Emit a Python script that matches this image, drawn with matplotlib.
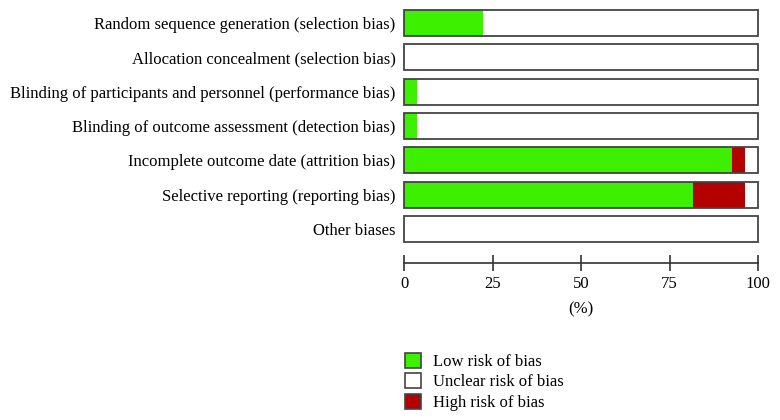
import matplotlib.pyplot as plt
from matplotlib.patches import Patch

# risk of bias domains (top to bottom)
domains = [
    "Random sequence generation (selection bias)",
    "Allocation concealment (selection bias)",
    "Blinding of participants and personnel (performance bias)",
    "Blinding of outcome assessment (detection bias)",
    "Incomplete outcome date (attrition bias)",
    "Selective reporting (reporting bias)",
    "Other biases",
]
low_risk = [22.2, 0, 3.7, 3.7, 92.6, 81.5, 0]
high_risk = [0, 0, 0, 0, 3.7, 14.8, 0]
unclear_risk = [100 - l - h for l, h in zip(low_risk, high_risk)]

x_ticks = [0, 25, 50, 75, 100]
legend_labels = ["Low risk of bias", "Unclear risk of bias", "High risk of bias"]

green = "#3cf000"
red = "#b30000"
edge = "#444444"

plt.rcParams['font.family'] = ['Liberation Serif', 'DejaVu Serif']
plt.rcParams['font.size'] = 12

fig = plt.figure(figsize=(7.8, 4.2), dpi=100)
ax = fig.add_axes([404/780, 1-246.2/420, 354/780, (246.2-5.83)/420])

y = list(range(len(domains)))
h = 0.76
ax.barh(y, low_risk, height=h, color=green, edgecolor="none")
ax.barh(y, high_risk, left=low_risk, height=h, color=red, edgecolor="none")
lefts = [l + r for l, r in zip(low_risk, high_risk)]
ax.barh(y, unclear_risk, left=lefts, height=h, color="white", edgecolor="none")
# outline around each full bar
ax.barh(y, [100] * len(y), height=h, color="none", edgecolor=edge, linewidth=1.3, clip_on=False)

ax.set_ylim(len(domains) - 0.5, -0.5)
ax.set_xlim(0, 100)
ax.set_yticks(y)
ax.set_yticklabels(domains)
ax.tick_params(axis='y', length=0, pad=6)

ax.set_xticks(x_ticks)
ax.set_xticklabels([str(t) for t in x_ticks])
ax.tick_params(axis='x', direction='inout', length=11, width=1.2, color="#333333", pad=4)
ax.set_xlabel("(%)", labelpad=6.5)

for s in ["top", "right", "left"]:
    ax.spines[s].set_visible(False)
ax.spines["bottom"].set_position(("outward", 12))
ax.spines["bottom"].set_linewidth(1.2)
ax.spines["bottom"].set_color("#333333")

handles = [
    Patch(facecolor=green, edgecolor=edge, linewidth=1.2),
    Patch(facecolor="white", edgecolor=edge, linewidth=1.2),
    Patch(facecolor=red, edgecolor=edge, linewidth=1.2),
]
fig.legend(handles, legend_labels, loc="upper left", bbox_to_anchor=(398/780, 1-346/420),
           frameon=False, handlelength=1.0, handleheight=1.0, handletextpad=0.7,
           labelspacing=0.2, borderaxespad=0)

fig.savefig("out.png", dpi=100)
